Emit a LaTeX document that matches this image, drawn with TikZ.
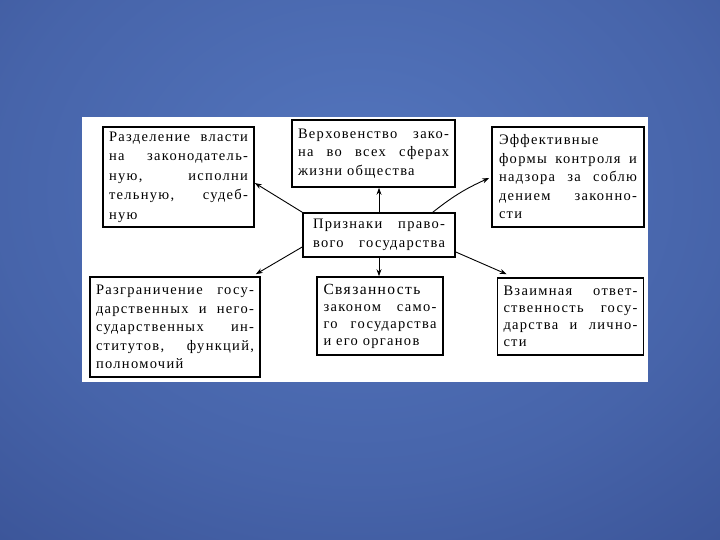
\documentclass[tikz,border=0pt]{standalone}
\usepackage{fontspec}
\setmainfont{Liberation Serif}[LetterSpace=9]
\usetikzlibrary{arrows.meta,calc}
\definecolor{bgin}{RGB}{84,118,190}
\definecolor{bgout}{RGB}{30,45,108}
\pgfdeclareradialshading{bgshade}{\pgfpoint{0bp}{0bp}}{color(0bp)=(bgin); color(20bp)=(bgin!75!bgout); color(62bp)=(bgout); color(90bp)=(bgout)}
\newcommand\jline[1]{\leavevmode\hbox to \hsize{\spaceskip=0.3em plus 1fil minus 0.2em\relax #1}}
\tikzset{
  box/.style={draw, line width=1.6bp, rectangle, fill=white, inner sep=0pt,
    font=\fontsize{14.5bp}{18.5bp}\selectfont},
  tight/.style={font=\fontsize{14.5bp}{17bp}\selectfont},
  loose/.style={font=\fontsize{14.5bp}{19.5bp}\selectfont},
  arr/.style={-{Stealth[length=7bp,width=5bp]}, line width=0.9bp}
}
\begin{document}
\begin{tikzpicture}[x=1bp,y=-1bp]
\useasboundingbox (0,0) rectangle (720,540);
\begin{scope}
\clip (0,0) rectangle (720,540);
\shade[shading=bgshade] (-100,-180) rectangle (820,560);
\end{scope}
\fill[white] (82,117) rectangle (648,382);

\node[box, loose, minimum width=151bp, minimum height=100bp, text width=139bp] (b1) at (178.5,177)
 {\jline{Разделение власти}\\\jline{на законодатель-}\\\jline{ную, исполни}\\\jline{тельную, судеб-}\\ную};
\node[box, minimum width=163bp, minimum height=67bp, text width=151bp] (b2) at (373.5,153.5)
 {\jline{Верховенство зако-}\\\jline{на во всех сферах}\\жизни общества};
\node[box, minimum width=152bp, minimum height=100bp, text width=138bp] (b3) at (568,177)
 {Эффективные\\\jline{формы контроля и}\\\jline{надзора за соблю}\\\jline{дением законно-}\\сти};
\node[box, minimum width=152bp, minimum height=44bp, text width=132bp] (c) at (379,235)
 {\jline{Признаки право-}\\\jline{вого государства}};
\node[box, minimum width=170bp, minimum height=100bp, text width=158bp] (b4) at (175,327)
 {\jline{Разграничение госу-}\\\jline{дарственных и него-}\\\jline{сударственных ин-}\\\jline{ститутов, функций,}\\полномочий};
\node[box, tight, minimum width=126bp, minimum height=78bp, text width=113bp] (b5) at (380,316)
 {{\fontsize{15.5bp}{17bp}\selectfont Связанность}\\\jline{законом само-}\\\jline{го государства}\\и его органов};
\node[box, tight, minimum width=146bp, minimum height=77bp, text width=134bp] (b6) at (570.5,316.5)
 {\jline{Взаимная ответ-}\\\jline{ственность госу-}\\\jline{дарства и лично-}\\сти};

\draw[arr] (c.north west) -- ($(b1.east)+(0,6)$);
\draw[arr] (c.north) -- (c.north |- b2.south);
\draw[arr] ($(c.north east)+(-23,0)$) to[bend left=7] ($(b3.west)+(-2,1)$);
\draw[arr] ($(c.west)+(0,12)$) -- ($(b4.north east)+(-5,-2)$);
\draw[arr] (c.south) -- (c.south |- b5.north);
\draw[arr] ($(c.east)+(0,17)$) -- ($(b6.north west)+(10,-3)$);
\end{tikzpicture}
\end{document}
